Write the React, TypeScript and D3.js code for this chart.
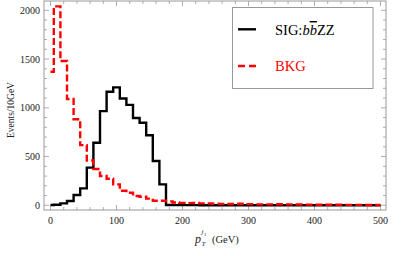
import React from "react";
import * as d3 from "d3";

const binCenters = d3.range(0, 510, 10);
const sigValues = [
  3, 5, 20, 44, 105, 174, 386, 642, 966, 1165, 1210, 1095, 1030, 895, 847, 718, 455, 215,
  3, 2, 2, 2, 2, 1, 1, 1, 1, 1, 1, 1, 1, 1, 1, 1, 1, 1, 1, 1, 1, 1, 1, 1, 1, 1, 1, 1, 1, 1, 1, 1, 1,
];
const bkgValues = [
  1370, 2040, 1480, 1090, 882, 617, 460, 372, 300, 273, 215, 150, 129, 95, 88, 68, 47, 47,
  40, 28, 25, 22, 24, 20, 18, 16, 15, 13, 14, 16, 12, 10, 9, 9, 10, 11, 9, 8, 8, 7, 6, 6, 5, 5, 5,
  4, 4, 4, 3, 3, 3,
];
const xTicks = [0, 100, 200, 300, 400, 500];
const yTicks = [0, 500, 1000, 1500, 2000];
const xMinor = d3.range(0, 520, 20);
const yMinor = d3.range(0, 2100, 100);

const W = 409;
const H = 256;
const frame = { left: 44, right: 386, top: 1, bottom: 210 };

export default function App() {
  const x = d3.scaleLinear().domain([0, 500]).range([50.5, 380.5]);
  const y = d3.scaleLinear().domain([0, 2000]).range([205.3, 10.3]);
  const line = d3
    .line<number>()
    .x((_, i) => x(binCenters[i]))
    .y((d) => y(d))
    .curve(d3.curveStep);
  const frameColor = "#999";
  const serif = "'Liberation Serif', 'DejaVu Serif', serif";

  return (
    <svg
      width={W}
      height={H}
      style={{ position: "absolute", left: 0, top: 0, background: "#fff" }}
      fontFamily={serif}
    >
      {/* frame */}
      <rect
        x={frame.left}
        y={frame.top}
        width={frame.right - frame.left}
        height={frame.bottom - frame.top}
        fill="none"
        stroke={frameColor}
        strokeWidth={1}
      />
      {xMinor.map((t) => {
        const major = t % 100 === 0;
        const len = major ? 5 : 3;
        return (
          <g key={"xt" + t} stroke={frameColor} strokeWidth={0.8}>
            <line x1={x(t)} x2={x(t)} y1={frame.bottom} y2={frame.bottom - len} />
            <line x1={x(t)} x2={x(t)} y1={frame.top} y2={frame.top + len} />
          </g>
        );
      })}
      {yMinor.map((t) => {
        const major = t % 500 === 0;
        const len = major ? 5 : 3;
        return (
          <g key={"yt" + t} stroke={frameColor} strokeWidth={0.8}>
            <line x1={frame.left} x2={frame.left + len} y1={y(t)} y2={y(t)} />
            <line x1={frame.right} x2={frame.right - len} y1={y(t)} y2={y(t)} />
          </g>
        );
      })}
      {xTicks.map((t) => (
        <text key={"xl" + t} x={x(t)} y={224} fontSize={10} textAnchor="middle" fill="#222">
          {t}
        </text>
      ))}
      {yTicks.map((t) => (
        <text key={"yl" + t} x={40} y={y(t) + 3.5} fontSize={10} textAnchor="end" fill="#222">
          {t}
        </text>
      ))}
      {/* data */}
      <path d={line(sigValues) || ""} fill="none" stroke="#000" strokeWidth={2.4} />
      <path
        d={line(bkgValues) || ""}
        fill="none"
        stroke="#ff0000"
        strokeWidth={2.4}
        strokeDasharray="7,3"
      />
      {/* axis titles */}
      <text
        transform="translate(14,110) rotate(-90)"
        fontSize={9.5}
        textAnchor="middle"
        fill="#222"
      >
        Events/10GeV
      </text>
      <g fill="#222">
        <text x={195} y={243} fontSize={12} fontStyle="italic">p</text>
        <text x={201.5} y={245.5} fontSize={7} fontStyle="italic">T</text>
        <text x={201.5} y={234} fontSize={7} fontStyle="italic">j</text>
        <text x={204} y={236} fontSize={5}>1</text>
        <text x={212} y={243} fontSize={10.5}>(GeV)</text>
      </g>
      {/* legend */}
      <rect x={232.5} y={7.5} width={140.5} height={81} fill="#fff" stroke={frameColor} strokeWidth={1} />
      <line x1={238} x2={256} y1={29.3} y2={29.3} stroke="#000" strokeWidth={2.4} />
      <line x1={238} x2={256} y1={66} y2={66} stroke="#ff0000" strokeWidth={2.4} strokeDasharray="7,4" />
      <text x={275} y={35} fontSize={14.5} fill="#000">
        SIG:<tspan fontStyle="italic">b</tspan>
        <tspan fontStyle="italic" textDecoration="overline">b</tspan>ZZ
      </text>
      <text x={275} y={71} fontSize={14.5} fill="#ff0000">
        BKG
      </text>
    </svg>
  );
}
